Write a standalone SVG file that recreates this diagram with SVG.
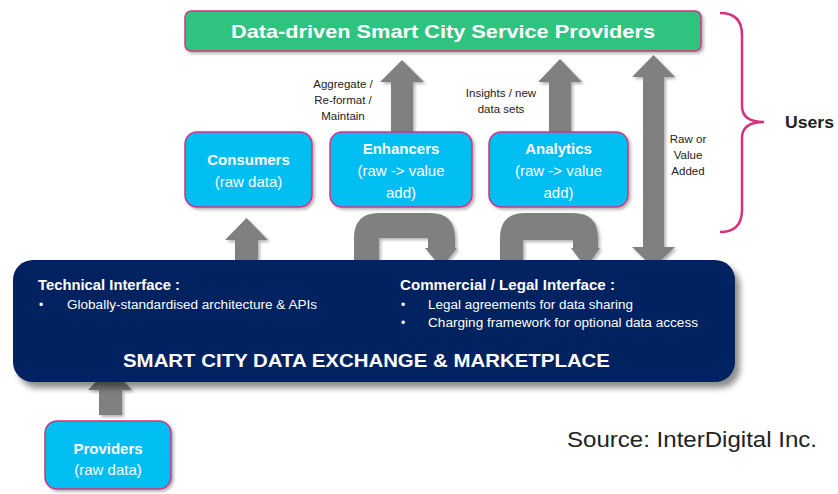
<svg xmlns="http://www.w3.org/2000/svg" width="838" height="494" viewBox="0 0 838 494">
<defs>
<filter id="sh" x="-10%" y="-10%" width="130%" height="140%">
<feGaussianBlur in="SourceAlpha" stdDeviation="3"/>
<feOffset dx="5" dy="6" result="b"/>
<feComponentTransfer><feFuncA type="linear" slope="0.45"/></feComponentTransfer>
<feMerge><feMergeNode/><feMergeNode in="SourceGraphic"/></feMerge>
</filter>
<filter id="sh2" x="-10%" y="-10%" width="130%" height="130%">
<feGaussianBlur in="SourceAlpha" stdDeviation="1.5"/>
<feOffset dx="2" dy="2" result="b"/>
<feComponentTransfer><feFuncA type="linear" slope="0.3"/></feComponentTransfer>
<feMerge><feMergeNode/><feMergeNode in="SourceGraphic"/></feMerge>
</filter>
</defs>
<style>
text{font-family:"Liberation Sans",Arial,sans-serif}
.box{fill:#00bdf2;stroke:#d6317f;stroke-width:1.5}
.green{fill:#2fc47f;stroke:#d6317f;stroke-width:1.5}
.arr{fill:#808080}
.wb{fill:#ffffff;font-weight:bold}
.w{fill:#ffffff}
.k{fill:#222222}
.lbl{fill:#222222;font-size:11.5px}
.brace{fill:none;stroke:#d6317f;stroke-width:2.5}
</style>
<rect width="838" height="494" fill="#ffffff"/>

<g id="connectors" filter="url(#sh2)">
<polygon class="arr" points="391,133 391,82 380,82 402,60 424,82 413,82 413,133"/>
<polygon class="arr" points="549,133 549,82 538,82 560,59 582,82 571,82 571,133"/>
<polygon class="arr" points="643,77 632,77 653.5,55 675,77 664,77 664,247 675,247 653.5,268 632,247 643,247"/>
<polygon class="arr" points="235,266 235,240 225,240 246.5,218 268,240 258,240 258,266"/>
<path class="arr" d="M354,268 L354,238 Q354,213 379,213 L430,213 Q455,213 455,238 L455,248 L457,248 L441.5,268 L425,248 L428,248 L428,238 L379,238 L379,268 Z"/>
<path class="arr" d="M500,268 L500,238 Q500,213 525,213 L573,213 Q598,213 598,238 L598,248 L600,248 L586,268 L571,248 L573,248 L573,240 L523,240 L523,268 Z"/>
<polygon class="arr" points="99,415 99,390 88,390 110,367 132,390 122,390 122,415"/>
</g>

<g id="marketplace">
<rect x="13" y="260" width="722" height="122" rx="20" fill="#002060" filter="url(#sh)"/>
<text x="38" y="290" class="wb" font-size="14" textLength="142" lengthAdjust="spacingAndGlyphs">Technical Interface :</text>
<text x="39" y="309" class="w" font-size="12">•</text>
<text x="67" y="309" class="w" font-size="12" textLength="250" lengthAdjust="spacingAndGlyphs">Globally-standardised architecture &amp; APIs</text>
<text x="400" y="290" class="wb" font-size="14" textLength="215" lengthAdjust="spacingAndGlyphs">Commercial / Legal Interface :</text>
<text x="401" y="309" class="w" font-size="12">•</text>
<text x="428" y="309" class="w" font-size="12" textLength="205" lengthAdjust="spacingAndGlyphs">Legal agreements for data sharing</text>
<text x="401" y="327" class="w" font-size="12">•</text>
<text x="428" y="327" class="w" font-size="12" textLength="270" lengthAdjust="spacingAndGlyphs">Charging framework for optional data access</text>
<text x="123" y="367" class="wb" font-size="19" textLength="487" lengthAdjust="spacingAndGlyphs">SMART CITY DATA EXCHANGE &amp; MARKETPLACE</text>
</g>

<g id="service-providers">
<rect x="185" y="11" width="516" height="40" rx="6" class="green" filter="url(#sh2)"/>
<text x="231" y="38" class="wb" font-size="19" textLength="424" lengthAdjust="spacingAndGlyphs">Data-driven Smart City  Service Providers</text>
</g>

<g id="consumers">
<rect x="185" y="132" width="127" height="75" rx="12" class="box" filter="url(#sh2)"/>
<text x="248.5" y="165" class="wb" font-size="15" text-anchor="middle">Consumers</text>
<text x="248.5" y="187" class="w" font-size="15" text-anchor="middle">(raw data)</text>
</g>

<g id="enhancers">
<rect x="330" y="132" width="142" height="75" rx="12" class="box" filter="url(#sh2)"/>
<text x="401" y="154" class="wb" font-size="15" text-anchor="middle">Enhancers</text>
<text x="401" y="176" class="w" font-size="15" text-anchor="middle">(raw -&gt; value</text>
<text x="401" y="198" class="w" font-size="15" text-anchor="middle">add)</text>
</g>

<g id="analytics">
<rect x="489" y="132" width="139" height="75" rx="12" class="box" filter="url(#sh2)"/>
<text x="558.5" y="154" class="wb" font-size="15" text-anchor="middle">Analytics</text>
<text x="558.5" y="176" class="w" font-size="15" text-anchor="middle">(raw -&gt; value</text>
<text x="558.5" y="198" class="w" font-size="15" text-anchor="middle">add)</text>
</g>

<g id="providers">
<rect x="45" y="421" width="126" height="68" rx="12" class="box" filter="url(#sh2)"/>
<text x="108" y="454" class="wb" font-size="15" text-anchor="middle">Providers</text>
<text x="108" y="475" class="w" font-size="15" text-anchor="middle">(raw data)</text>
</g>

<g id="labels">
<text x="343" y="88" class="lbl" text-anchor="middle">Aggregate  /</text>
<text x="343" y="104" class="lbl" text-anchor="middle">Re-format  /</text>
<text x="343" y="120" class="lbl" text-anchor="middle">Maintain</text>
<text x="501" y="97" class="lbl" text-anchor="middle">Insights / new</text>
<text x="501" y="113" class="lbl" text-anchor="middle">data sets</text>
<text x="688" y="143" class="lbl" text-anchor="middle">Raw or</text>
<text x="688" y="159" class="lbl" text-anchor="middle">Value</text>
<text x="688" y="175" class="lbl" text-anchor="middle">Added</text>
</g>

<g id="users">
<path class="brace" d="M720,13 Q742,13 742,35 L742,106 Q742,122 764,122 Q742,122 742,138 L742,210 Q742,232 720,232"/>
<text x="785" y="128" class="k" font-size="17" font-weight="bold" textLength="49" lengthAdjust="spacingAndGlyphs">Users</text>
</g>

<g id="source">
<text x="567" y="447" fill="#222222" font-size="22" textLength="250" lengthAdjust="spacingAndGlyphs">Source: InterDigital Inc.</text>
</g>
</svg>
